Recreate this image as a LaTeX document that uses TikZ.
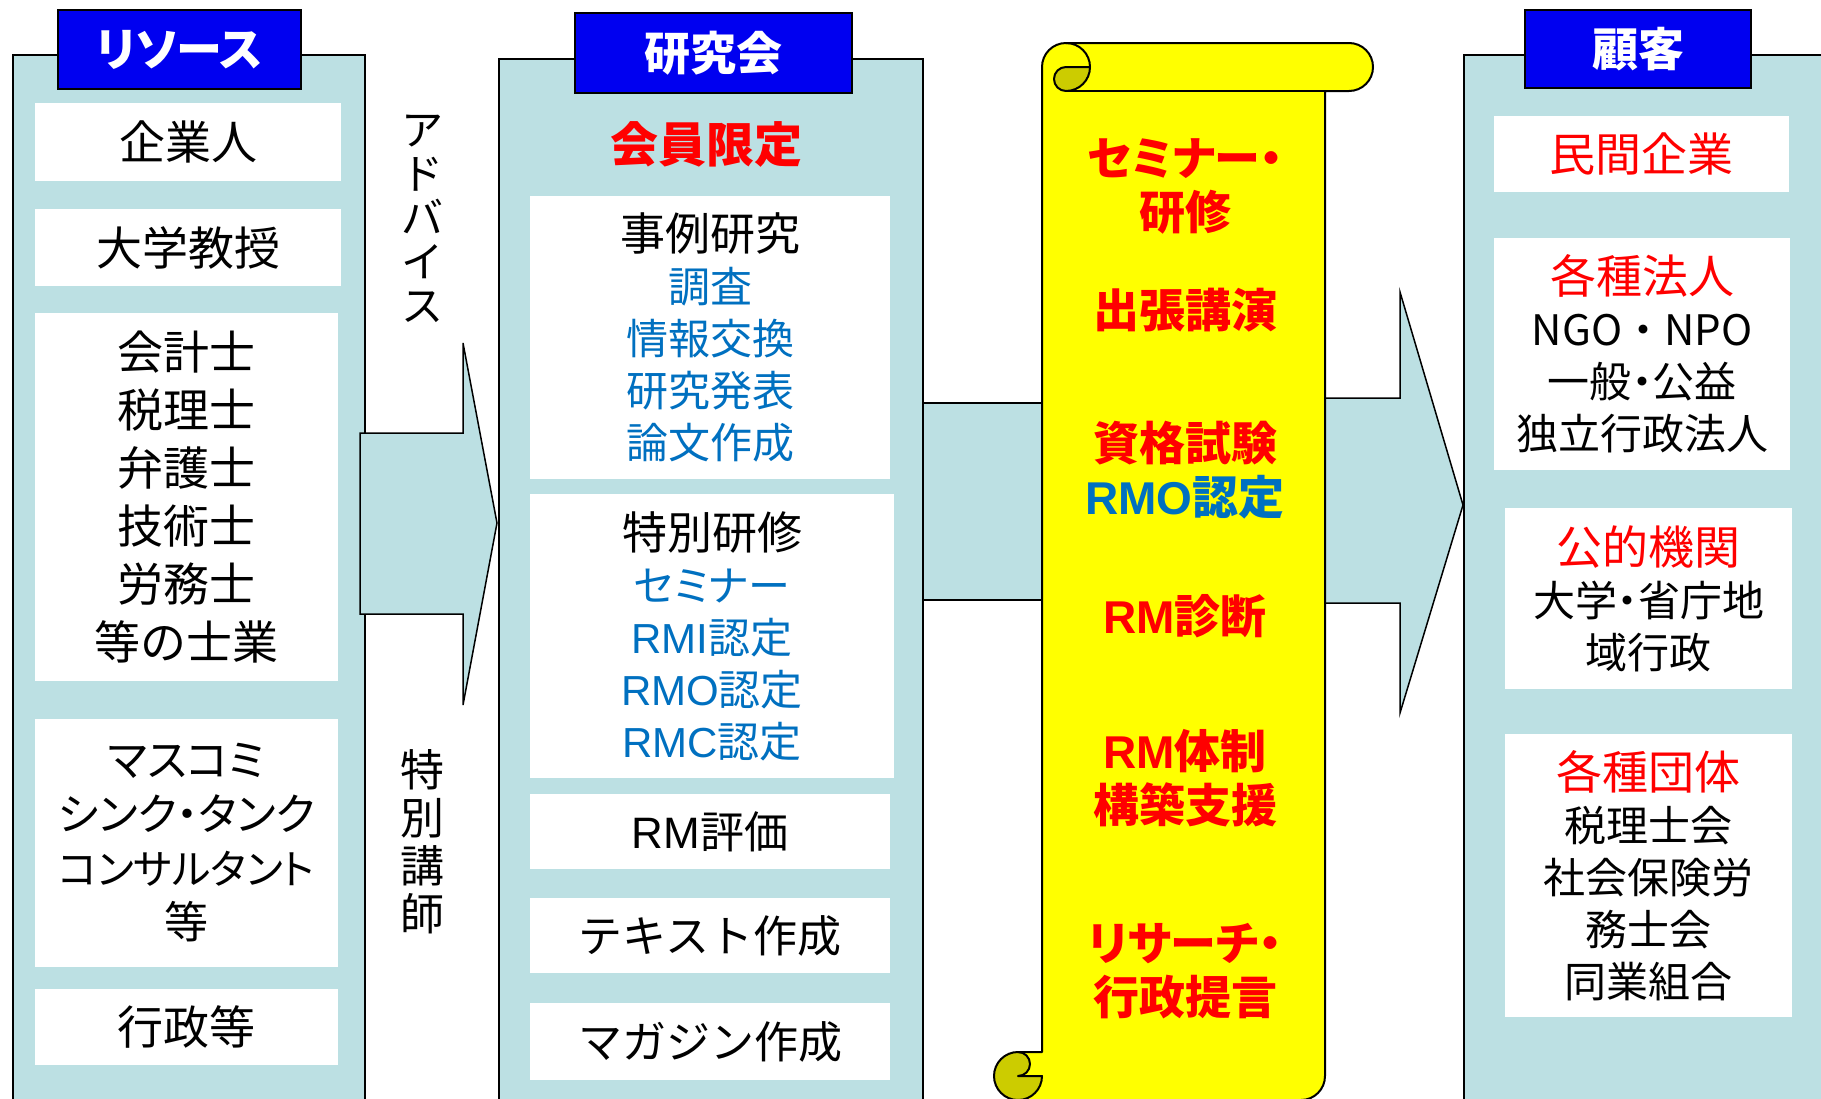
\documentclass[tikz,border=0pt]{standalone}
\usepackage{fontspec}
\setmainfont{Noto Sans CJK JP}
\newfontfamily\jpp{Noto Sans CJK JP}[RawFeature=+palt]
\newfontfamily\lat{Liberation Sans}
\definecolor{panelblue}{RGB}{188,224,227}
\definecolor{hdrblue}{RGB}{0,0,240}
\definecolor{txtblue}{RGB}{0,112,192}
\definecolor{txtred}{RGB}{255,0,0}
\definecolor{scrollyellow}{RGB}{255,255,0}
\definecolor{curlyellow}{RGB}{204,204,0}
\tikzset{
  panel/.style={fill=panelblue, draw=black, line width=2pt},
  hdr/.style={fill=hdrblue, draw=black, line width=2pt, inner sep=0pt, text=white,
    font=\fontsize{46}{52}\selectfont\bfseries},
  wbox/.style={fill=white, draw=none, inner sep=0pt, align=center},
  bigarrow/.style={fill=panelblue, draw=black, line width=1.5pt, line join=miter},
  scrollline/.style={draw=black, line width=2pt, line join=round},
  txt/.style={align=center, inner sep=0pt},
  lfont/.style={font=\fontsize{46}{58}\selectfont},
  rfont/.style={font=\fontsize{42}{52}\selectfont},
  cfont/.style={font=\jpp\fontsize{42}{52}\selectfont},
  sfont/.style={font=\jpp\fontsize{46}{54}\selectfont\bfseries, text=txtred},
}
\begin{document}
\begin{tikzpicture}[x=1pt,y=-1pt]
\useasboundingbox (0,0) rectangle (1821,1098);

% panels
\draw[panel] (13,55) rectangle (365,1115);
\draw[panel] (499,59) rectangle (923,1115);
\draw[panel] (1464,55) rectangle (1840,1115);

% headers
\node[hdr, minimum width=243, minimum height=79] (hres) at (179.5,49.5) {\jpp リソース};
\node[hdr, minimum width=277, minimum height=80] (hken) at (713.5,53) {研究会};
\node[hdr, minimum width=226, minimum height=78] (hkok) at (1638,49) {顧客};

% left panel boxes
\node[wbox, lfont, minimum width=306, minimum height=78] (kigyo) at (188,142) {企業人};
\node[wbox, lfont, minimum width=306, minimum height=77] (kyoju) at (188,247.5) {大学教授};
\node[wbox, lfont, minimum width=303, minimum height=368] (shigyo) at (186.5,497)
  {会計士\\税理士\\弁護士\\技術士\\労務士\\等の士業};
\node[wbox, font=\jpp\fontsize{44}{54}\selectfont, minimum width=303, minimum height=248] (masu) at (186.5,843)
  {マスコミ\\シンク・タンク\\{\fontsize{41}{54}\selectfont コンサルタント}\\等};
\node[wbox, lfont, minimum width=303, minimum height=76] (gyosei) at (186.5,1027) {行政等};

% vertical labels
\node[txt, font=\fontsize{42}{44}\selectfont] (advice) at (422,219) {ア\\ド\\バ\\イ\\ス};
\node[txt, font=\fontsize{44}{48}\selectfont] (koshi) at (422,842) {特\\別\\講\\師};

% research panel
\node[txt, text=txtred, font=\fontsize{48}{52}\selectfont\bfseries] (kaiin) at (706,144) {会員限定};
\node[wbox, rfont, minimum width=360, minimum height=283] (jirei) at (710,337)
  {{\fontsize{45}{52}\selectfont 事例研究}\\\textcolor{txtblue}{調査}\\\textcolor{txtblue}{情報交換}\\\textcolor{txtblue}{研究発表}\\\textcolor{txtblue}{論文作成}};
\node[wbox, rfont, minimum width=364, minimum height=284] (tokubetsu) at (712,636)
  {{\fontsize{45}{52}\selectfont 特別研修}\\\textcolor{txtblue}{\jpp セミナー}\\\textcolor{txtblue}{{\lat RMI}認定}\\\textcolor{txtblue}{{\lat RMO}認定}\\\textcolor{txtblue}{{\lat RMC}認定}};
\node[wbox, font=\fontsize{44}{52}\selectfont, minimum width=360, minimum height=75] (hyoka) at (710,831.5) {{\lat RM}評価};
\node[wbox, font=\fontsize{44}{52}\selectfont, minimum width=360, minimum height=75] (text) at (710,935.5) {テキスト作成};
\node[wbox, font=\fontsize{44}{52}\selectfont, minimum width=360, minimum height=77] (mag) at (710,1041.5) {マガジン作成};

% arrows and connector
\draw[bigarrow] (360,433) -- (463,433) -- (463,343) -- (497,523) -- (463,705) -- (463,614) -- (360,614) -- cycle;
\draw[bigarrow] (923,403) rectangle (1042,600);
\draw[bigarrow] (1325,398) -- (1400,398) -- (1400,292) -- (1463,505) -- (1400,713) -- (1400,603) -- (1325,603) -- cycle;

% scroll
\fill[scrollyellow] (1042,1052) -- (1042,67) arc[start angle=180,delta angle=90,radius=24] -- (1349,43)
  arc[start angle=270,delta angle=180,radius=24] -- (1325,91) -- (1325,1076)
  arc[start angle=0,delta angle=90,radius=24] -- (1018,1100)
  arc[start angle=90,delta angle=180,radius=24] -- cycle;
\fill[curlyellow] (1090,67) arc[start angle=0,delta angle=90,radius=24] arc[start angle=90,delta angle=180,radius=12] -- cycle;
\fill[curlyellow] (1042,1076) arc[start angle=0,delta angle=270,radius=24] arc[start angle=270,delta angle=180,radius=12] -- cycle;
\draw[scrollline] (1042,1052) -- (1042,67) arc[start angle=180,delta angle=90,radius=24] -- (1349,43)
  arc[start angle=270,delta angle=180,radius=24] -- (1325,91) -- (1325,1076)
  arc[start angle=0,delta angle=90,radius=24] -- (1018,1100)
  arc[start angle=90,delta angle=180,radius=24] -- cycle;
\draw[scrollline] (1066,43) arc[start angle=270,delta angle=180,radius=24] arc[start angle=90,delta angle=180,radius=12] -- (1090,67);
\draw[scrollline] (1325,91) -- (1066,91);
\draw[scrollline] (1018,1052) arc[start angle=270,delta angle=180,radius=12] -- (1042,1076) arc[start angle=0,delta angle=90,radius=24];

% scroll texts
\node[txt, sfont] (seminar) at (1185,186.5) {セミナー・\\研修};
\node[txt, sfont] (shutcho) at (1185,310) {出張講演};
\node[txt, sfont] (shikaku) at (1185,470) {資格試験\\\textcolor{txtblue}{{\lat RMO}認定}};
\node[txt, sfont] (shindan) at (1185,616) {{\lat RM}診断};
\node[txt, sfont] (taisei) at (1185,778) {{\lat RM}体制\\構築支援};
\node[txt, sfont] (research) at (1185,971) {リサーチ・\\行政提言};

% customer panel
\node[wbox, font=\fontsize{46}{52}\selectfont, text=txtred, minimum width=295, minimum height=76] (minkan) at (1641.5,154) {民間企業};
\node[wbox, cfont, minimum width=296, minimum height=232] (hojin) at (1642,354)
  {\textcolor{txtred}{\fontsize{46}{52}\selectfont 各種法人}\\{\normalfont NGO・NPO}\\一般・公益\\独立行政法人};
\node[wbox, cfont, minimum width=287, minimum height=181] (koteki) at (1648.5,598.5)
  {\textcolor{txtred}{\fontsize{46}{52}\selectfont 公的機関}\\大学・省庁地\\域行政};
\node[wbox, cfont, minimum width=287, minimum height=283] (dantai) at (1648.5,875.5)
  {\textcolor{txtred}{\fontsize{46}{52}\selectfont 各種団体}\\税理士会\\社会保険労\\務士会\\同業組合};
\end{tikzpicture}
\end{document}
